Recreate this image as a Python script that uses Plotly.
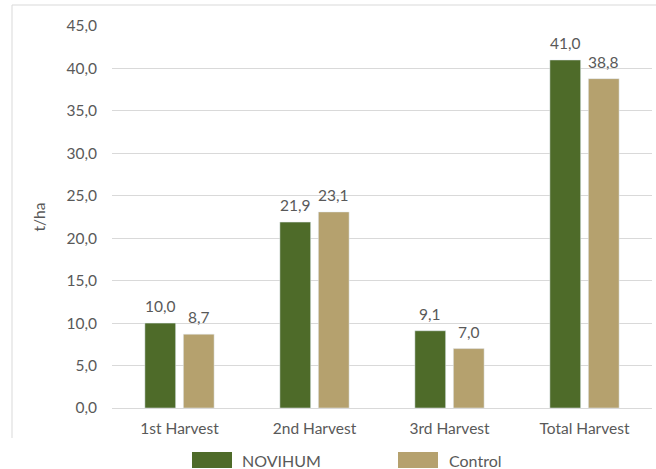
import plotly.graph_objects as go

categories = ["1st Harvest", "2nd Harvest", "3rd Harvest", "Total Harvest"]
novihum = [10.0, 21.9, 9.1, 41.0]
control = [8.7, 23.1, 7.0, 38.8]
y_ticks = [0, 5, 10, 15, 20, 25, 30, 35, 40, 45]
series_names = ["NOVIHUM", "Control"]

GREEN = "#4E6B29"
TAN = "#B5A16E"
TXT = "#595959"
FONT = "Lato"
FS = 15.5

# plot area in pixels: x 112..652, y 26..408
PW, PH = 540.0, 382.0


def px_x(px):
    return (px - 112) / PW


def px_y(py):
    return (408 - py) / PH


fig = go.Figure()
annotations = []
for name, vals, col, shift in [(series_names[0], novihum, GREEN, -19.2),
                               (series_names[1], control, TAN, 19.2)]:
    fig.add_trace(go.Bar(
        name=name, x=categories, y=vals, marker_color=col,
        showlegend=False, hoverinfo="x+y+name",
    ))
    for c, v in zip(categories, vals):
        annotations.append(dict(x=c, y=v, xref="x", yref="y", xshift=shift, yshift=6,
                                yanchor="bottom", xanchor="center", showarrow=False,
                                text=f"{v:.1f}".replace(".", ","),
                                font=dict(size=FS, color=TXT, family=FONT)))

shapes = [
    dict(type="line", xref="paper", yref="paper",
         x0=px_x(12), x1=px_x(700), y0=px_y(5), y1=px_y(5),
         line=dict(color="#D9D9D9", width=1)),
    dict(type="line", xref="paper", yref="paper",
         x0=px_x(12), x1=px_x(12), y0=px_y(5), y1=px_y(438),
         line=dict(color="#D9D9D9", width=1)),
]
legend_pos = [(192, 240), (398, 447)]
for (sx, tx), name, col in zip(legend_pos, series_names, [GREEN, TAN]):
    shapes.append(dict(type="rect", xref="paper", yref="paper",
                       x0=px_x(sx), x1=px_x(sx + 40), y0=px_y(452), y1=px_y(468),
                       fillcolor=col, line=dict(width=0)))
    annotations.append(dict(xref="paper", yref="paper", x=px_x(tx), y=px_y(460),
                            xanchor="left", yanchor="middle", showarrow=False,
                            text=name, font=dict(size=16, color=TXT, family=FONT)))

fig.update_layout(
    width=656, height=469,
    margin=dict(l=112, r=4, t=26, b=61, autoexpand=False),
    paper_bgcolor="white", plot_bgcolor="white",
    separators=",.",
    barmode="group", bargap=0.43, bargroupgap=0.2,
    font=dict(family=FONT, color=TXT, size=FS),
    showlegend=False,
    xaxis=dict(showline=False, ticks="", ticklabelstandoff=9,
               tickfont=dict(size=FS, color=TXT, family=FONT)),
    yaxis=dict(range=[0, 45], tickvals=y_ticks, tickformat=".1f",
               showgrid=True, gridcolor="#D9D9D9", gridwidth=1,
               zeroline=True, zerolinecolor="#D9D9D9", zerolinewidth=1,
               ticks="", ticklen=0, ticklabelstandoff=14,
               tickfont=dict(size=FS, color=TXT, family=FONT),
               title=dict(text="t/ha", font=dict(size=FS, color=TXT, family=FONT), standoff=17)),
    shapes=shapes,
    annotations=annotations,
)

fig.write_html("out.html")
